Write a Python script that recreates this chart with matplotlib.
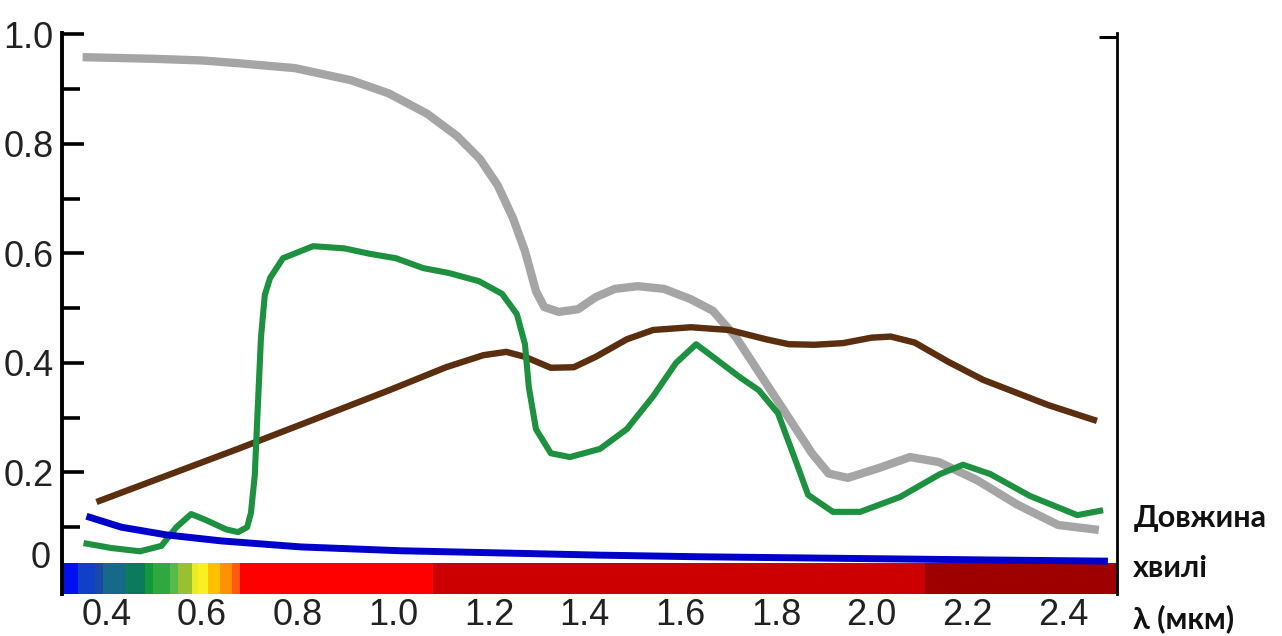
import matplotlib
matplotlib.use("Agg")
import matplotlib.pyplot as plt
import numpy as np

# spectral reflectance curves, wavelength in micrometres
snow_x = [0.35, 0.50, 0.60, 0.675, 0.794, 0.911, 0.99, 1.07, 1.133, 1.181, 1.218, 1.25, 1.275,
          1.298, 1.315, 1.346, 1.386, 1.423, 1.463, 1.511, 1.566, 1.622, 1.668, 1.716, 1.779,
          1.842, 1.875, 1.91, 1.95, 2.015, 2.08, 2.14, 2.22, 2.305, 2.39, 2.475]
snow_y = [0.958, 0.955, 0.952, 0.947, 0.938, 0.916, 0.892, 0.855, 0.814, 0.772, 0.724, 0.664, 0.604,
          0.531, 0.502, 0.493, 0.498, 0.52, 0.535, 0.54, 0.535, 0.516, 0.495, 0.447, 0.363,
          0.279, 0.235, 0.198, 0.19, 0.208, 0.228, 0.219, 0.186, 0.141, 0.104, 0.095]

veg_x = [0.352, 0.41, 0.47, 0.515, 0.546, 0.577, 0.608, 0.65, 0.675, 0.694, 0.702, 0.71, 0.717,
         0.723, 0.731, 0.742, 0.769, 0.832, 0.897, 0.951, 1.005, 1.062, 1.116, 1.179, 1.227,
         1.258, 1.275, 1.283, 1.298, 1.329, 1.369, 1.432, 1.488, 1.543, 1.591, 1.633, 1.668,
         1.724, 1.764, 1.804, 1.842, 1.867, 1.919, 1.976, 2.059, 2.143, 2.191, 2.248, 2.331,
         2.43, 2.484]
veg_y = [0.071, 0.062, 0.056, 0.066, 0.10, 0.124, 0.113, 0.096, 0.091, 0.10, 0.126, 0.195, 0.332,
         0.447, 0.524, 0.555, 0.591, 0.613, 0.609, 0.599, 0.591, 0.573, 0.564, 0.549, 0.526,
         0.489, 0.434, 0.356, 0.279, 0.235, 0.228, 0.243, 0.279, 0.339, 0.40, 0.434, 0.411,
         0.374, 0.35, 0.308, 0.219, 0.159, 0.128, 0.128, 0.155, 0.197, 0.214, 0.197, 0.157,
         0.122, 0.131]

soil_x = [0.379, 0.675, 0.832, 0.991, 1.11, 1.188, 1.236, 1.275, 1.329, 1.377, 1.423, 1.488,
          1.543, 1.622, 1.702, 1.779, 1.827, 1.88, 1.94, 2.0, 2.04, 2.09, 2.16, 2.233, 2.369, 2.471]
soil_y = [0.146, 0.243, 0.296, 0.35, 0.392, 0.414, 0.42, 0.411, 0.391, 0.392, 0.411, 0.443,
          0.46, 0.465, 0.46, 0.443, 0.434, 0.433, 0.436, 0.446, 0.448, 0.437, 0.402, 0.369, 0.323, 0.294]

water_x = [0.358, 0.431, 0.525, 0.64, 0.806, 1.015, 1.223, 1.431, 1.64, 1.848, 2.056, 2.265, 2.494]
water_y = [0.12, 0.10, 0.086, 0.075, 0.064, 0.057, 0.053, 0.049, 0.046, 0.044, 0.042, 0.040, 0.038]

# colour strip of the spectrum under the curves
band_edges = [0.307, 0.340, 0.376, 0.393, 0.439, 0.481, 0.497, 0.533, 0.550, 0.579, 0.591,
              0.612, 0.637, 0.662, 0.679, 1.083, 2.111, 2.513]
band_colors = ["#0010f0", "#1040c8", "#1848a8", "#17698a", "#0c7a5c", "#12983a", "#30a840",
               "#58b848", "#98c030", "#e8ec20", "#f8f020", "#ffc000", "#ff9000", "#ff5a10",
               "#ff0000", "#cc0000", "#9e0000"]

x_ticks = [0.4, 0.6, 0.8, 1.0, 1.2, 1.4, 1.6, 1.8, 2.0, 2.2, 2.4]
y_ticks = [0.2, 0.4, 0.6, 0.8, 1.0]

axis_title = ["Довжина", "хвилі", "λ (мкм)"]

num_font = ["Liberation Sans", "DejaVu Sans"]

fig = plt.figure(figsize=(12.82, 6.36), dpi=100)
ax = fig.add_axes([0.0484, 0.066, 0.8229, 0.882])

ax.bar(band_edges[:-1], 0.057, width=np.diff(band_edges), bottom=-0.022,
       color=band_colors, align="edge", linewidth=0, zorder=1)

line_kw = dict(solid_capstyle="butt", solid_joinstyle="round")
ax.plot(snow_x, snow_y, color="#a5a5a5", lw=6, zorder=3, **line_kw)
ax.plot(soil_x, soil_y, color="#5a2e0e", lw=4.6, zorder=4, **line_kw)
ax.plot(veg_x, veg_y, color="#1e9140", lw=4.4, zorder=5, **line_kw)
ax.plot(water_x, water_y, color="#0000cc", lw=5, zorder=6, **line_kw)

ax.set_xlim(0.307, 2.513)
ax.set_ylim(-0.022, 1.002)

for s in ["top", "bottom"]:
    ax.spines[s].set_visible(False)
ax.spines["left"].set_linewidth(2.8)
ax.spines["right"].set_linewidth(2.0)

ax.set_xticks(x_ticks)
ax.set_xticklabels([f"{t:.1f}" for t in x_ticks], family=num_font, fontsize=26, color="#222222")
ax.tick_params(axis="x", length=0, pad=3)

ax.set_yticks(y_ticks)
ax.set_yticklabels([f"{t:.1f}" for t in y_ticks], family=num_font, fontsize=26, color="#222222")
ax.set_yticks([0.1, 0.3, 0.5, 0.7, 0.9], minor=True)
ax.tick_params(axis="y", which="major", direction="in", length=16, width=2.6, pad=6)
ax.tick_params(axis="y", which="minor", direction="in", length=13, width=2.6)
ax.text(-0.011, 0.042, "0", transform=ax.get_yaxis_transform(), ha="right", va="center",
        family=num_font, fontsize=26, color="#222222")

# small inward tick at the top of the right spine
ax_r = ax.twinx()
ax_r.set_ylim(ax.get_ylim())
ax_r.set_yticks([0.995])
ax_r.set_yticklabels([])
ax_r.tick_params(axis="y", direction="in", length=13, width=2.2)
for s in ["top", "bottom", "left", "right"]:
    ax_r.spines[s].set_visible(False)

# wavelength caption, one line per text, placed by baseline
for i, line in enumerate(axis_title):
    fig.text(0.884, 0.171 - i * 0.079, line, ha="left", va="baseline",
             family=["Lato", "DejaVu Sans"], fontweight="bold", fontsize=22, color="#111111")

fig.savefig("out.png", dpi=100)
